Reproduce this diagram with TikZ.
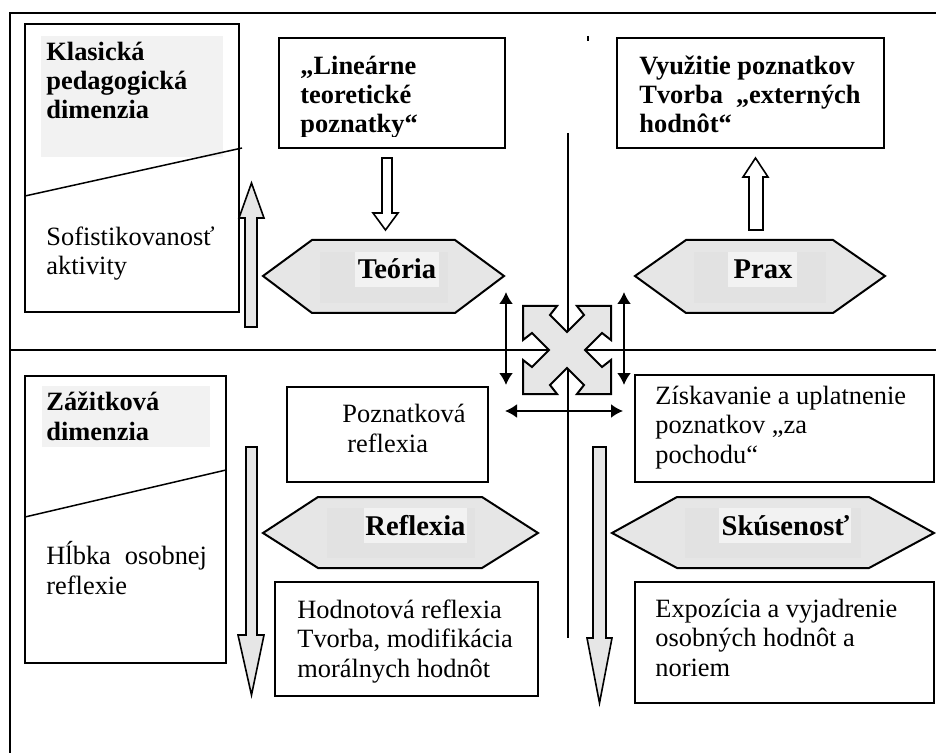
\documentclass[tikz,border=0pt]{standalone}
\usepackage{fontspec}
\setmainfont{Liberation Serif}
\usetikzlibrary{arrows.meta}
\definecolor{hexgray}{HTML}{E6E6E6}
\definecolor{innergray}{HTML}{E2E2E2}
\definecolor{lightgray2}{HTML}{F2F2F2}
\begin{document}
\begin{tikzpicture}[x=0.5pt,y=-0.5pt,
  frameline/.style={line width=1pt},
  boxline/.style={draw=black,line width=1pt},
  thinline/.style={line width=0.75pt},
  hexa/.style={draw=black,line width=1pt,fill=hexgray},
  garrow/.style={draw=black,line width=0.8pt,fill=hexgray,line join=miter},
  warrow/.style={draw=black,line width=0.8pt,fill=white,line join=miter},
  dbl/.style={{Latex[length=6pt,width=7pt]}-{Latex[length=6pt,width=7pt]},line width=1pt},
  txt/.style={anchor=base west,inner sep=0pt,align=left,font=\fontsize{13.2}{14.7}\selectfont},
  btxt/.style={anchor=base west,inner sep=0pt,align=left,font=\fontsize{13.2}{14.6}\selectfont\bfseries},
  hlabel/.style={anchor=base,inner sep=0pt,font=\fontsize{14.3}{16}\selectfont\bfseries}
]
\useasboundingbox (0,0) rectangle (936,753);

% frame
\coordinate (fTL) at (10,13);
\coordinate (fTR) at (936,13);
\coordinate (fBL) at (10,753);
\coordinate (mL) at (10,350);
\coordinate (mR) at (936,350);
\draw[frameline] (fTR) -- (fTL) -- (fBL);
\draw[frameline] (mL) -- (mR);

% top-left box (text anchors are at the LAST line's baseline)
\draw[boxline] (25,24) rectangle (239,312);
\fill[lightgray2] (41,36) rectangle (223,157);
\draw[thinline] (25,196) -- (242,148);
\node[btxt] (klas) at (46,119) {Klasická\\pedagogická\\dimenzia};
\node[txt] (sofi) at (46,275) {Sofistikovanosť\\aktivity};

% up gray arrow (left top)
\draw[garrow] (245,327) -- (245,218) -- (239,218) -- (251.5,183) -- (264,218) -- (257,218) -- (257,327) -- cycle;

% Linearne box
\draw[boxline] (279,38) rectangle (505,148);
\begin{scope}
\clip (279,38) rectangle (505,137);
\node[btxt] (linear) at (300,133) {„Lineárne\\teoretické\\poznatky“};
\end{scope}

% white down arrow
\draw[warrow] (382,158) -- (392,158) -- (392,213) -- (398,213) -- (385.5,230) -- (373,213) -- (382,213) -- cycle;

% Vyuzitie box
\draw[boxline] (617,38) rectangle (884,148);
\node[btxt] (vyuz) at (639,133) {Využitie poznatkov\\Tvorba\hspace{6.5pt}„externých\\hodnôt“};

% white up arrow
\draw[warrow] (749,230) -- (749,177) -- (743,177) -- (755.5,158) -- (768,177) -- (763,177) -- (763,230) -- cycle;

% Teoria hexagon
\draw[hexa] (263,276) -- (312,240) -- (455,240) -- (504,276) -- (455,313) -- (312,313) -- cycle;
\fill[innergray] (320,252) rectangle (448,303);
\fill[lightgray2] (355,252) rectangle (439,287);
\node[hlabel] (teoria) at (397,279) {Teória};

% Prax hexagon
\draw[hexa] (635,276) -- (686,240) -- (833,240) -- (885,276) -- (833,313) -- (686,313) -- cycle;
\fill[innergray] (694,252) rectangle (826,303);
\fill[lightgray2] (728,252) rectangle (797,287);
\node[hlabel] (prax) at (763,279) {Prax};

% center vertical line and tick
\coordinate (vT) at (568,133);
\coordinate (vB) at (568,638);
\draw[thinline] (vT) -- (vB);
\coordinate (tickA) at (588,36);
\coordinate (tickB) at (588,41);
\draw[line width=1pt] (tickA) -- (tickB);

% center four-way cross
\begin{scope}[shift={(567,350)}]
\draw[garrow,line width=1pt] (-44,-44) -- (-10,-44) -- (-17,-35) -- (0,-18) -- (17,-35) -- (10,-44) -- (44,-44)
  -- (44,-10) -- (35,-17) -- (18,0) -- (35,17) -- (44,10) -- (44,44)
  -- (10,44) -- (17,35) -- (0,18) -- (-17,35) -- (-10,44) -- (-44,44)
  -- (-44,10) -- (-35,17) -- (-18,0) -- (-35,-17) -- (-44,-10) -- cycle;
\end{scope}

% double arrows
\coordinate (dlT) at (506,292); \coordinate (dlB) at (506,385);
\coordinate (drT) at (624,292); \coordinate (drB) at (624,385);
\coordinate (dhL) at (505,411); \coordinate (dhR) at (623,411);
\draw[dbl] (dlT) -- (dlB);
\draw[dbl] (drT) -- (drB);
\draw[dbl] (dhL) -- (dhR);

% Zazitkova box
\draw[boxline] (25,376) rectangle (226,663);
\fill[lightgray2] (42,386) rectangle (210,447);
\draw[thinline] (25,517) -- (226,470);
\node[btxt] (zazit) at (46,440) {Zážitková\\dimenzia};
\node[txt] (hlbka) at (46,594) {Hĺbka\hspace{7pt}osobnej\\reflexie};

% down gray arrow (left bottom)
\draw[garrow] (246,447) -- (257,447) -- (257,635) -- (264,635) -- (251.5,695) -- (238,635) -- (246,635) -- cycle;

% Poznatkova box
\draw[boxline] (287,387) rectangle (488,482);
\node[txt] (pozn) at (342,452) {Poznatková\\\hspace*{2.5pt}reflexia};

% Reflexia hexagon
\draw[hexa] (263,533) -- (318,497) -- (482,497) -- (538,533) -- (482,568) -- (318,568) -- cycle;
\fill[innergray] (327,508) rectangle (475,558);
\fill[lightgray2] (364,508) rectangle (467,543);
\node[hlabel] (refl) at (415.5,535) {Reflexia};

% Hodnotova box
\draw[boxline] (275,582) rectangle (538,696);
\node[txt] (hodn) at (297,677) {Hodnotová reflexia\\Tvorba, modifikácia\\morálnych hodnôt};

% down gray arrow (right bottom)
\draw[garrow] (593,447) -- (606,447) -- (606,638) -- (612,638) -- (599.5,703) -- (587,638) -- (593,638) -- cycle;

% Ziskavanie box
\draw[boxline] (635,375) rectangle (934,482);
\begin{scope}
\clip (635,375) rectangle (934,472);
\node[txt] (zisk) at (655,463) {Získavanie a uplatnenie\\poznatkov „za\\pochodu“};
\end{scope}

% Skusenost hexagon
\draw[hexa] (612,533) -- (677,497) -- (869,497) -- (934,533) -- (869,568) -- (677,568) -- cycle;
\fill[innergray] (685,508) rectangle (861,558);
\fill[lightgray2] (719,508) rectangle (851,543);
\node[hlabel] (skus) at (785.5,535) {Skúsenosť};

% Expozicia box
\draw[boxline] (635,582) rectangle (934,703);
\node[txt] (expo) at (655,676) {Expozícia a vyjadrenie\\osobných hodnôt a\\noriem};
\end{tikzpicture}
\end{document}
